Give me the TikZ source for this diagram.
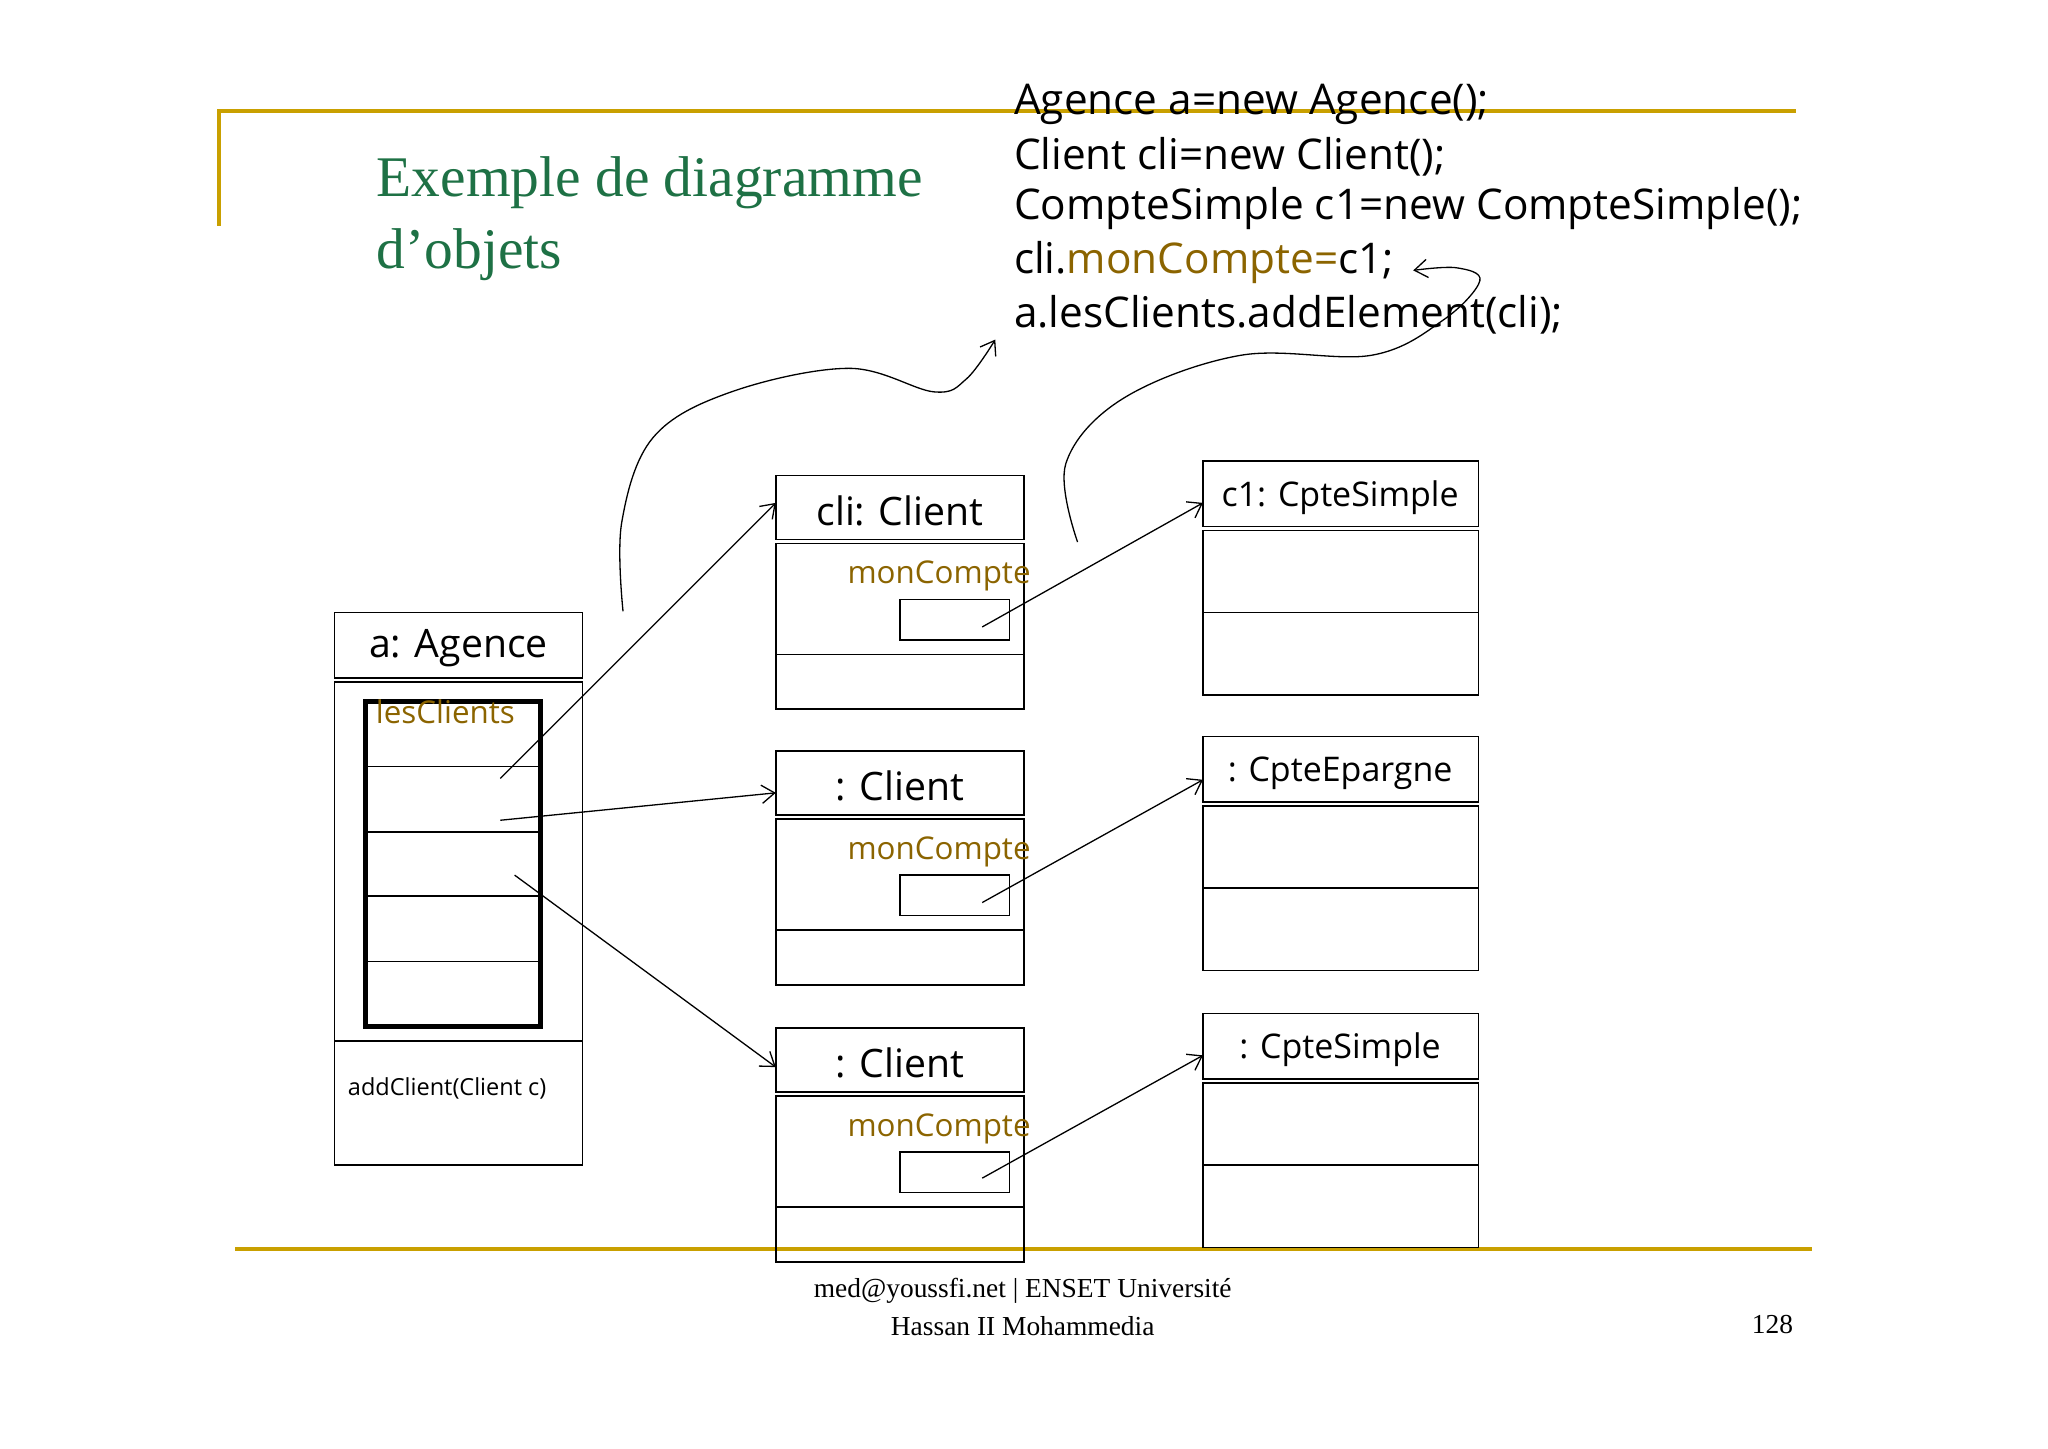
\documentclass[tikz,border=0pt]{standalone}
\usepackage{fontspec}
\setmainfont{Liberation Serif}
\newfontfamily\codefont{Open Sans}
\usetikzlibrary{arrows.meta}
\definecolor{gold}{HTML}{C9A000}
\definecolor{olive}{HTML}{8B6400}
\definecolor{ttl}{HTML}{1E7145}
\tikzset{box/.style={draw,line width=0.6pt},
 conn/.style={-{Straight Barb[length=5pt,width=7pt]},line width=0.5pt},
 hdr/.style={font=\codefont\fontsize{15}{18}\selectfont,inner sep=0},
 khdr/.style={font=\codefont\fontsize{13}{16}\selectfont,inner sep=0},
 mc/.style={font=\codefont\fontsize{12}{15}\selectfont,text=olive,inner sep=0},
 code/.style={font=\codefont\fontsize{16.2}{20}\selectfont,anchor=west,inner sep=0}}
\begin{document}
\begin{tikzpicture}[x=0.5pt,y=-0.5pt]
\useasboundingbox (0,0) rectangle (1568,1109);
\draw[gold,line width=1.5pt] (1375,85)--(168,85)--(168,173);
\draw[gold,line width=1.5pt] (180,956)--(1387,956);
\node[anchor=west,text=ttl,font=\fontsize{22}{26}\selectfont,inner sep=0] (t1) at (288,140) {Exemple de diagramme};
\node[anchor=west,text=ttl,font=\fontsize{22}{26}\selectfont,inner sep=0] (t2) at (288,195) {d’objets};
\node[code] (l1) at (776,80) {Agence a=new Agence();};
\node[code] (l2) at (776,120) {Client cli=new Client();};
\node[code] (l3) at (776,160) {CompteSimple c1=new CompteSimple();};
\node[code] (l4) at (776,201) {cli.\textcolor{olive}{monCompte=}c1;};
\node[code] (l5) at (776,241) {a.lesClients.addElement(cli);};
% Agence
\draw[box] (256,469) rectangle (446,519);
\draw[box] (256,522) rectangle (446,892);
\draw[box] (256,797)--(446,797);
\node[hdr] (ag) at (351,496) {a: Agence};
\draw[line width=2pt] (280,537) rectangle (414,786);
\foreach \y in {587,637,686,736} \draw[line width=0.6pt] (280,\y)--(414,\y);
\node[mc] (lc) at (341,545) {lesClients};
\node[font=\codefont\fontsize{9}{11}\selectfont,anchor=west,inner sep=0] (ac) at (266,833) {addClient(Client c)};
% clients
\foreach \t/\n/\nm in {364/cli: Client/cA,575/: Client/cB,787/: Client/cC}{
 \draw[box] (594,\t) rectangle (784,\t+49);
 \draw[box] (594,\t+52) rectangle (784,\t+179);
 \draw[box] (594,\t+137)--(784,\t+137);
 \draw[box] (689,\t+95) rectangle (773,\t+126);
 \node[hdr] (\nm) at (689,\t+27) {\n};
 \node[mc] (\nm m) at (719,\t+77) {monCompte};
}
% comptes
\foreach \t/\n/\nm in {353/c1: CpteSimple/kA,564/: CpteEpargne/kB,776/: CpteSimple/kC}{
 \draw[box] (921,\t) rectangle (1132,\t+50);
 \draw[box] (921,\t+53) rectangle (1132,\t+179);
 \draw[box] (921,\t+116)--(1132,\t+116);
 \node[khdr] (\nm) at (1026,\t+28) {\n};
}
\coordinate (s1) at (383,596); \coordinate (e1) at (594,385);
\coordinate (s2) at (383,628); \coordinate (e2) at (594,607);
\coordinate (s3) at (394,670); \coordinate (e3) at (594,817);
\coordinate (s4) at (752,480); \coordinate (e4) at (921,385);
\coordinate (s5) at (752,691); \coordinate (e5) at (921,597);
\coordinate (s6) at (752,902); \coordinate (e6) at (921,808);
\foreach \i in {1,...,6} \draw[conn] (s\i)--(e\i);
\draw[conn] plot[smooth,tension=0.6] coordinates {(477,468) (476,400) (500,335) (560,300) (650,282) (715,300) (740,290) (762,260)};
\draw[conn] plot[smooth,tension=0.6] coordinates {(825,415) (816,355) (860,305) (950,272) (1050,272) (1105,245) (1133,215) (1115,205) (1082,207)};
\node[font=\fontsize{10.5}{12}\selectfont,inner sep=0] (f1) at (783,988) {med@youssfi.net | ENSET Université};
\node[font=\fontsize{10.5}{12}\selectfont,inner sep=0] (f2) at (783,1015) {Hassan II Mohammedia};
\node[font=\fontsize{10.5}{12}\selectfont,inner sep=0] (f3) at (1357,1014) {128};
\end{tikzpicture}
\end{document}
